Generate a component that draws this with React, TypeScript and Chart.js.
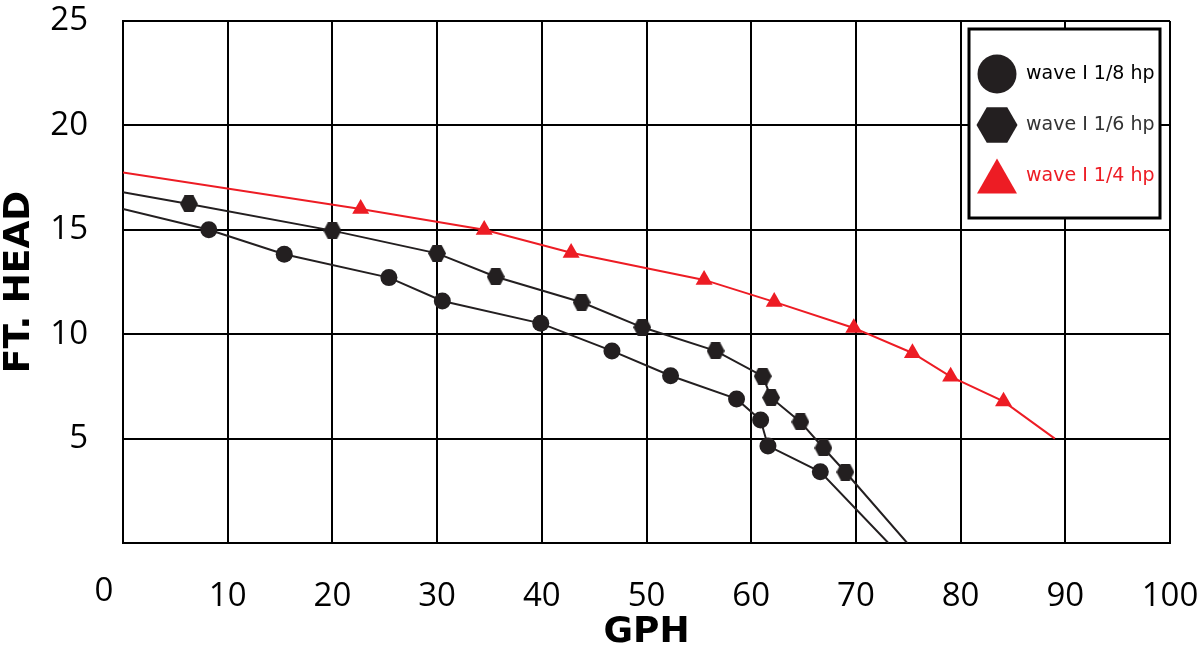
import React, { useEffect, useRef } from 'react';
import { Chart, registerables } from 'chart.js';

Chart.register(...registerables);

// ---- data ----
const seriesLabels = ['wave I 1/8 hp', 'wave I 1/6 hp', 'wave I 1/4 hp'];

const eighthX = [0, 8.2, 15.4, 25.4, 30.5, 39.9, 46.7, 52.3, 58.6, 60.9, 61.6, 66.6, 73.1];
const eighthY = [16.0, 15.0, 13.83, 12.71, 11.59, 10.52, 9.2, 8.01, 6.9, 5.89, 4.65, 3.41, 0];

const sixthX = [0, 6.3, 20.0, 30.0, 35.6, 43.8, 49.6, 56.6, 61.1, 61.9, 64.7, 66.9, 69.0, 74.9];
const sixthY = [16.8, 16.24, 14.96, 13.87, 12.75, 11.53, 10.33, 9.2, 7.99, 6.96, 5.8, 4.55, 3.4, 0];

const quarterX = [0, 22.7, 34.5, 42.8, 55.5, 62.2, 69.8, 75.4, 79.05, 84.1, 89.0];
const quarterY = [17.75, 16.0, 15.0, 13.9, 12.6, 11.55, 10.3, 9.1, 7.97, 6.78, 5.0];

const xTickMin = 0;
const xTickMax = 100;
const xTickStep = 10;
const yTickMin = 0;
const yTickMax = 25;
const yTickStep = 5;

const xTitle = 'GPH';
const yTitle = 'FT. HEAD';

// ---- styles ----
const DARK = '#231f20';
const RED = '#ed1c24';
const legendTextColors = ['#000000', '#333333', RED];
const TICK_FONT = '"Open Sans", "Liberation Sans", sans-serif';
const TITLE_FONT = '"DejaVu Sans", "Open Sans", sans-serif';

function makeHexagon(w: number, h: number, color: string): HTMLCanvasElement {
  const c = document.createElement('canvas');
  c.width = w;
  c.height = h;
  const g = c.getContext('2d')!;
  g.fillStyle = color;
  g.beginPath();
  g.moveTo(0, h / 2);
  g.lineTo(w / 4, 0);
  g.lineTo((3 * w) / 4, 0);
  g.lineTo(w, h / 2);
  g.lineTo((3 * w) / 4, h);
  g.lineTo(w / 4, h);
  g.closePath();
  g.fill();
  return c;
}

function toPoints(xs: number[], ys: number[]) {
  return xs.map((x, i) => ({ x, y: ys[i] }));
}

// endpoints (first and last) are line extensions without a marker
function markerRadii(n: number, r: number) {
  return Array.from({ length: n }, (_, i) => (i === 0 || i === n - 1 ? 0 : r));
}

function drawLegendSymbol(ctx: CanvasRenderingContext2D, kind: number, cx: number, cy: number, color: string) {
  ctx.fillStyle = color;
  ctx.beginPath();
  if (kind === 0) {
    ctx.arc(cx, cy, 19.5, 0, Math.PI * 2);
  } else if (kind === 1) {
    const w = 41, h = 35.5;
    ctx.moveTo(cx - w / 2, cy);
    ctx.lineTo(cx - w / 4, cy - h / 2);
    ctx.lineTo(cx + w / 4, cy - h / 2);
    ctx.lineTo(cx + w / 2, cy);
    ctx.lineTo(cx + w / 4, cy + h / 2);
    ctx.lineTo(cx - w / 4, cy + h / 2);
    ctx.closePath();
  } else {
    ctx.moveTo(cx, cy - 17.5);
    ctx.lineTo(cx + 20, cy + 17.5);
    ctx.lineTo(cx - 20, cy + 17.5);
    ctx.closePath();
  }
  ctx.fill();
}

const boxLegendPlugin = {
  id: 'boxLegend',
  afterDraw(chart: any) {
    const { ctx, chartArea } = chart;
    const w = 191;
    const h = 189;
    const right = chartArea.right - 10;
    const top = chartArea.top + 8;
    const left = right - w;
    ctx.save();
    ctx.fillStyle = '#ffffff';
    ctx.fillRect(left, top, w, h);
    ctx.lineWidth = 3;
    ctx.strokeStyle = '#000000';
    ctx.strokeRect(left, top, w, h);
    chart.data.datasets.forEach((ds: any, i: number) => {
      const cy = top + 45 + i * 51;
      const cx = left + 28;
      drawLegendSymbol(ctx, i, cx, cy, ds.pointBackgroundColor);
      ctx.fillStyle = legendTextColors[i];
      ctx.font = `19px ${TITLE_FONT}`;
      ctx.textAlign = 'left';
      ctx.textBaseline = 'middle';
      ctx.fillText(ds.label, left + 57, cy);
    });
    ctx.restore();
  },
};

// the "0" of the x axis sits left of the origin in the reference
const zeroLabelPlugin = {
  id: 'zeroLabel',
  afterDraw(chart: any) {
    const { ctx, chartArea } = chart;
    const xs = chart.scales.x;
    ctx.save();
    ctx.fillStyle = '#000000';
    ctx.font = `33px ${TICK_FONT}`;
    ctx.textAlign = 'center';
    ctx.textBaseline = 'middle';
    ctx.fillText(String(xTickMin), xs.getPixelForValue(xTickMin) - 19, chartArea.bottom + 49);
    ctx.restore();
  },
};

function zeroPadding(s: any) {
  s.paddingTop = 0;
  s.paddingBottom = 0;
  s.paddingLeft = 0;
  s.paddingRight = 0;
}

export default function App() {
  const canvasRef = useRef<HTMLCanvasElement | null>(null);

  useEffect(() => {
    document.body.style.margin = '0';
    const canvas = canvasRef.current;
    if (!canvas) return;
    const hex = makeHexagon(18, 17, DARK);

    const chart = new Chart(canvas, {
      type: 'line',
      data: {
        datasets: [
          {
            label: seriesLabels[0],
            data: toPoints(eighthX, eighthY),
            borderColor: DARK,
            backgroundColor: DARK,
            pointBackgroundColor: DARK,
            pointBorderWidth: 0,
            borderWidth: 2,
            pointStyle: 'circle',
            pointRadius: markerRadii(eighthX.length, 8.5),
            tension: 0,
          },
          {
            label: seriesLabels[1],
            data: toPoints(sixthX, sixthY),
            borderColor: DARK,
            backgroundColor: DARK,
            pointBackgroundColor: DARK,
            pointBorderWidth: 0,
            borderWidth: 2,
            pointStyle: hex,
            pointRadius: markerRadii(sixthX.length, 8.5),
            tension: 0,
          },
          {
            label: seriesLabels[2],
            data: toPoints(quarterX, quarterY),
            borderColor: RED,
            backgroundColor: RED,
            pointBackgroundColor: RED,
            pointBorderWidth: 0,
            borderWidth: 2,
            pointStyle: 'triangle',
            pointRadius: markerRadii(quarterX.length, 9.8),
            tension: 0,
          },
        ],
      },
      options: {
        responsive: false,
        animation: false,
        layout: { padding: { top: 21, right: 30, left: 0, bottom: 0 } },
        plugins: {
          legend: { display: false },
          tooltip: { enabled: false },
        },
        scales: {
          x: {
            type: 'linear',
            min: xTickMin,
            max: xTickMax,
            afterFit: (s: any) => {
              s.height = 114;
              zeroPadding(s);
            },
            ticks: {
              stepSize: xTickStep,
              color: '#000',
              font: { family: TICK_FONT, size: 33 },
              padding: 34,
              maxRotation: 0,
              callback: (v: any) => (Number(v) === xTickMin ? '' : String(v)),
            },
            grid: { color: '#000', lineWidth: 2, drawTicks: false },
            border: { color: '#000', width: 2 },
            title: {
              display: true,
              text: xTitle,
              color: '#000',
              font: { family: TITLE_FONT, size: 36, weight: 'bold', lineHeight: 1.2 },
              padding: { top: 0, bottom: 3 },
            },
          },
          y: {
            type: 'linear',
            min: yTickMin,
            max: yTickMax,
            afterFit: (s: any) => {
              s.width = 123;
              zeroPadding(s);
            },
            ticks: {
              stepSize: yTickStep,
              color: '#000',
              font: { family: TICK_FONT, size: 33 },
              padding: 35,
              callback: (v: any) => (Number(v) === yTickMin ? '' : String(v)),
            },
            grid: { color: '#000', lineWidth: 2, drawTicks: false },
            border: { color: '#000', width: 2 },
            title: {
              display: true,
              text: yTitle,
              color: '#000',
              font: { family: TITLE_FONT, size: 36, weight: 'bold', lineHeight: 1.1 },
              padding: { top: 0, bottom: 0 },
            },
          },
        },
      },
      plugins: [boxLegendPlugin, zeroLabelPlugin],
    } as any);

    return () => {
      chart.destroy();
    };
  }, []);

  return (
    <div style={{ position: 'absolute', left: 0, top: 0, width: 1200, height: 657, background: '#fff' }}>
      <canvas ref={canvasRef} width={1200} height={657} style={{ display: 'block' }} />
    </div>
  );
}
